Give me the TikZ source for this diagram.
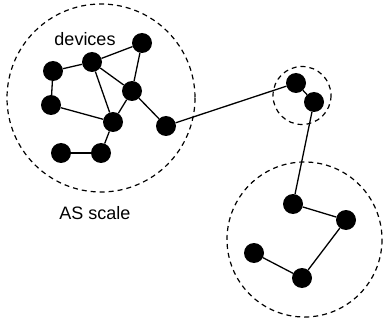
\documentclass[tikz,border=0pt]{standalone}
\usepackage{fontspec}
\setmainfont{Liberation Sans}
\begin{document}
\begin{tikzpicture}[x=1pt,y=-1pt,
  dev/.style={circle,fill=black,inner sep=0pt,minimum size=20pt},
  link/.style={line width=1.3pt},
  group/.style={draw,dashed,line width=1.2pt,dash pattern=on 5pt off 4pt},
  lbl/.style={font=\fontsize{18}{20}\selectfont,inner sep=0pt}]
\useasboundingbox (0,0) rectangle (383,326);
\draw[group] (101,98) circle (94);
\draw[group] (302,95.5) circle (29);
\draw[group] (304.5,239.5) circle (77.5);
\node[dev] (A) at (142,43) {};
\node[dev] (B) at (92,62) {};
\node[dev] (C) at (53,71) {};
\node[dev] (D) at (132,91) {};
\node[dev] (E) at (51,105) {};
\node[dev] (F) at (113,122) {};
\node[dev] (G) at (166,126) {};
\node[dev] (H) at (61,153) {};
\node[dev] (I) at (101,153) {};
\node[dev] (J) at (296,83) {};
\node[dev] (K) at (314,102) {};
\node[dev] (L) at (293,204) {};
\node[dev] (M) at (346,220) {};
\node[dev] (N) at (254,253) {};
\node[dev] (O) at (302,278) {};
\begin{scope}[on background layer/.try]
\end{scope}
\draw[link] (A) -- (B);
\draw[link] (B) -- (C);
\draw[link] (C) -- (E);
\draw[link] (B) -- (D);
\draw[link] (B) -- (F);
\draw[link] (A) -- (D);
\draw[link] (D) -- (F);
\draw[link] (E) -- (F);
\draw[link] (D) -- (G);
\draw[link] (F) -- (I);
\draw[link] (H) -- (I);
\draw[link] (G) -- (J);
\draw[link] (J) -- (K);
\draw[link] (K) -- (L);
\draw[link] (L) -- (M);
\draw[link] (M) -- (O);
\draw[link] (O) -- (N);
\node[lbl] (dl) at (85,39) {devices};
\node[lbl] (al) at (95,213) {AS scale};
\end{tikzpicture}
\end{document}
